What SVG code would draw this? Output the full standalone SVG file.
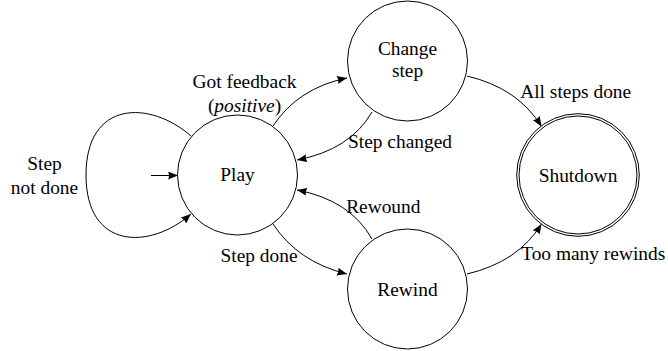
<svg xmlns="http://www.w3.org/2000/svg" width="668" height="351" viewBox="0 0 668 351">
<defs>
<style>
.n{fill:#fff;stroke:#000;stroke-width:1}
text{font-family:'Liberation Serif','DejaVu Serif',serif;font-size:19.4px;fill:#000;text-anchor:middle}
.e{fill:none;stroke:#000;stroke-width:1;marker-end:url(#ah)}
</style>
<marker id="ah" viewBox="0 0 10 8" refX="10" refY="4" markerWidth="10" markerHeight="8" markerUnits="userSpaceOnUse" orient="auto">
<path d="M0,0 L10,4 L0,8 Q2,4 0,0 z" fill="#000"/>
</marker>
</defs>
<rect width="668" height="351" fill="#fff"/>
<g id="edges">
<path class="e" d="M191 136 C150 100 86 100 86 175 C86 250 150 250 191 214"/>
<path class="e" d="M151 175.5 L178 175.5"/>
<path class="e" d="M273 126 Q298 88 347 78"/>
<path class="e" d="M372 112 Q350 150 297 160"/>
<path class="e" d="M273 224 Q298 262 347 274"/>
<path class="e" d="M372 239 Q350 200 297 190"/>
<path class="e" d="M467 76 Q518 88 541.5 126.5"/>
<path class="e" d="M467 274 Q518 262 541.5 224"/>
</g>
<g id="play"><circle class="n" cx="237.5" cy="175" r="60"/><text x="237.5" y="181" style="font-family:'Liberation Serif',serif">Play</text></g>
<g id="change"><circle class="n" cx="407.5" cy="61" r="60"/><text x="407.5" y="55">Change</text><text x="407.5" y="77">step</text></g>
<g id="rewind"><circle class="n" cx="407.5" cy="289" r="60"/><text x="407.5" y="295.5">Rewind</text></g>
<g id="shutdown"><circle class="n" cx="578" cy="175" r="61.3"/><circle class="n" cx="578" cy="175" r="59"/><text x="578" y="181.5">Shutdown</text></g>
<g id="labels">
<text x="44.5" y="170">Step</text>
<text x="44.5" y="194.3">not done</text>
<text x="244.5" y="88.3">Got feedback</text>
<text x="244.5" y="112">(<tspan font-style="italic">positive</tspan>)</text>
<text x="400" y="147.5">Step changed</text>
<text x="259" y="261.7">Step done</text>
<text x="383.3" y="213.3">Rewound</text>
<text x="575.7" y="98.3">All steps done</text>
<text x="593.2" y="260">Too many rewinds</text>
</g>
</svg>
